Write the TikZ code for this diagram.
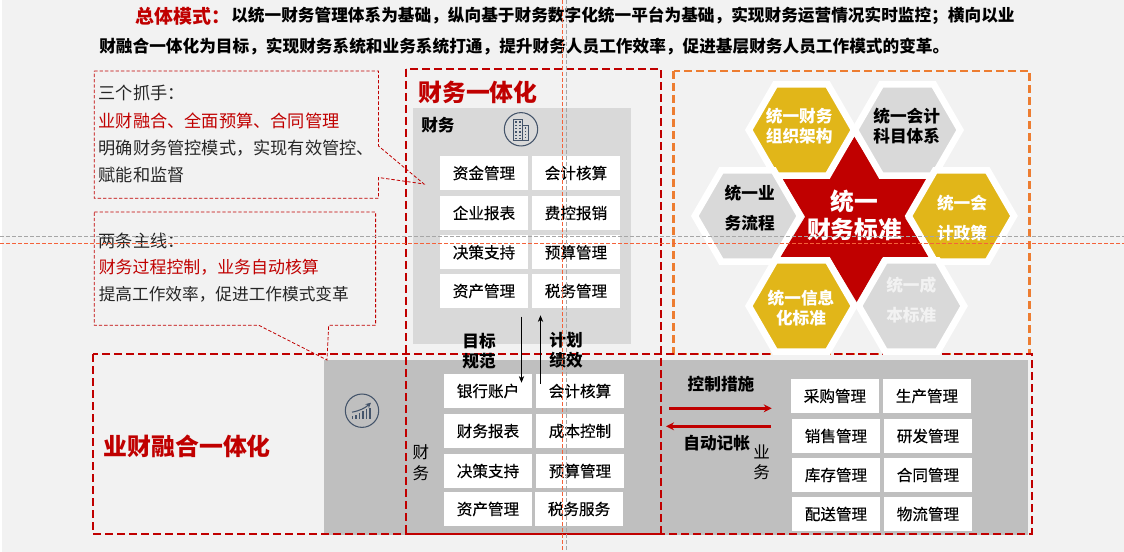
\documentclass[tikz,border=0pt]{standalone}
\usepackage{fontspec}
\setmainfont{Noto Sans CJK SC}
\newfontfamily\cellfont{Noto Sans CJK SC}[BoldFont={Noto Sans CJK SC},BoldFeatures={FakeBold=0.3}]
\usepackage{tikz}
\usetikzlibrary{calc, arrows.meta, positioning, shapes.geometric}
\definecolor{pagegray}{HTML}{F2F2F2}
\definecolor{deepred}{HTML}{C00000}
\definecolor{panelgray}{HTML}{D9D9D9}
\definecolor{darkpanel}{HTML}{BFBFBF}
\definecolor{goldhex}{HTML}{E1B619}
\definecolor{iconblue}{HTML}{44546A}
\definecolor{dashorange}{HTML}{ED7D31}
\definecolor{guidered}{HTML}{F4623A}
\begin{document}
\begin{tikzpicture}[
        x=0.75pt, y=-0.75pt,
        cellbox/.style={rectangle, fill=white, minimum width=66pt, minimum height=25.5pt, inner sep=0pt, font=\fontsize{11.7}{14}\cellfont\bfseries},
        plaintext/.style={anchor=west, inner sep=0pt, font=\fontsize{12.9}{15}\selectfont, text=black!85},
        headtext/.style={anchor=west, inner sep=0pt, font=\fontsize{12.5}{15}\selectfont\bfseries},
        bigtitle/.style={anchor=west, inner sep=0pt, font=\fontsize{17.9}{21}\selectfont\bfseries, text=deepred},
        boldlabel/.style={inner sep=0pt, align=center, font=\fontsize{12.5}{15}\selectfont\bfseries},
        sidelabel/.style={inner sep=0pt, font=\fontsize{12.4}{15}\selectfont},
        hextext/.style={inner sep=0pt, font=\fontsize{12.5}{15}\selectfont\bfseries},
        hexcell/.pic={\draw[draw=white, line width=5pt, fill=#1] (-52.65,0) -- (-26.3,-45.6) -- (26.3,-45.6) -- (52.65,0) -- (26.3,45.6) -- (-26.3,45.6) -- cycle;},
        thickdash/.style={draw=deepred, line width=1.6pt, dash pattern=on 6pt off 3pt},
        thindash/.style={draw=deepred, line width=0.6pt, dash pattern=on 2.5pt off 1.5pt},
        guideline/.style={line width=0.7pt, dash pattern=on 3pt off 1.5pt},
        iconring/.style={circle, draw=iconblue, line width=0.8pt, minimum size=25pt, inner sep=0pt},
        thinarrow/.style={-{Stealth[length=5pt, width=4pt]}, line width=0.5pt},
        redarrow/.style={-{Stealth[length=6pt, width=6pt]}, line width=2pt, deepred}
    ]
        \useasboundingbox (0,0) rectangle (1124,552);
        \fill[pagegray] (2,0) rectangle (1124,552);
        \fill[panelgray] (413,108) rectangle (631,344);
        \fill[darkpanel] (324,360) rectangle (1028,534.5);

        \node[headtext, text=deepred, font=\fontsize{14.2}{16}\selectfont\bfseries] (modehead) at (135.5,16) {总体模式：};
        \node[headtext] (modeone) at (231,16) {以统一财务管理体系为基础，纵向基于财务数字化统一平台为基础，实现财务运营情况实时监控；横向以业};
        \node[headtext] (modetwo) at (99,47) {财融合一体化为目标，实现财务系统和业务系统打通，提升财务人员工作效率，促进基层财务人员工作模式的变革。};

        \draw[thindash] (94.3,71) -- (378.5,71) -- (378.5,146) -- (424,184) -- (378.5,177.5) -- (378.5,198.3) -- (94.3,198.3) -- cycle;
        \draw[thindash] (94.3,212) -- (375.6,212) -- (375.6,325.3) -- (328.7,325.3) -- (327,360) -- (258.8,325.3) -- (94.3,325.3) -- cycle;
        \node[plaintext] (gripone) at (98.5,93) {三个抓手：};
        \node[plaintext, text=deepred] (griptwo) at (98.5,120.7) {业财融合、全面预算、合同管理};
        \node[plaintext] (gripthree) at (98.5,147.7) {明确财务管控模式，实现有效管控、};
        \node[plaintext] (gripfour) at (98.5,174.7) {赋能和监督};
        \node[plaintext] (lineone) at (98.5,240.7) {两条主线：};
        \node[plaintext, text=deepred, font=\fontsize{12.7}{15}\selectfont] (linetwo) at (98.5,267.7) {财务过程控制，业务自动核算};
        \node[plaintext, font=\fontsize{12.5}{15}\selectfont] (linethree) at (98.5,294.3) {提高工作效率，促进工作模式变革};

        \draw[thickdash] (406,69) rectangle (661,534);
        \draw[draw=dashorange, line width=1.6pt, dash pattern=on 6pt off 3pt] (673.5,71) rectangle (1029.5,354);
        \draw[thickdash] (92.8,354.3) rectangle (1032,533.7);

        \node[bigtitle] (financetitle) at (418,92.7) {财务一体化};
        \node[bigtitle] (mergetitle) at (103.5,446) {业财融合一体化};
        \node[headtext] (financehead) at (421,125.3) {财务};

        \node[iconring] (buildingicon) at (521,129.3) {};
        \draw[iconblue, fill=panelgray, line width=0.5pt] ($(buildingicon)+(-7.7,-10)$) rectangle ($(buildingicon)+(1.7,10.7)$);
        \draw[iconblue, fill=panelgray, line width=0.5pt] ($(buildingicon)+(1.7,-4.3)$) rectangle ($(buildingicon)+(7.7,10.7)$);
        \draw[iconblue, line width=1pt, dash pattern=on 1pt off 1.5pt] ($(buildingicon)+(-5,-8)$) -- ($(buildingicon)+(-5,9)$);
        \draw[iconblue, line width=1pt, dash pattern=on 1pt off 1.5pt] ($(buildingicon)+(-1,-8)$) -- ($(buildingicon)+(-1,9)$);
        \draw[iconblue, line width=1pt, dash pattern=on 1pt off 1.5pt] ($(buildingicon)+(4.7,-2)$) -- ($(buildingicon)+(4.7,9)$);

        \node[iconring] (charticon) at (362,410.7) {};
        \draw[iconblue, line width=1pt] ($(charticon)+(-9.5,8)$) -- ($(charticon)+(-9.5,5.5)$);
        \draw[iconblue, line width=1pt] ($(charticon)+(-6,8)$) -- ($(charticon)+(-6,4)$);
        \draw[iconblue, line width=1pt] ($(charticon)+(-2.5,8)$) -- ($(charticon)+(-2.5,2)$);
        \draw[iconblue, line width=1pt] ($(charticon)+(1,8)$) -- ($(charticon)+(1,0.5)$);
        \draw[iconblue, line width=1pt] ($(charticon)+(4.5,8)$) -- ($(charticon)+(4.5,-1.5)$);
        \draw[iconblue, line width=1pt] ($(charticon)+(8,8)$) -- ($(charticon)+(8,-3)$);
        \draw[iconblue, line width=0.8pt, -{Stealth[length=4pt, width=4pt]}] ($(charticon)+(-10,1.5)$) to[bend right=15] ($(charticon)+(9,-8)$);

        \node[cellbox] (fundmgmt) at (484,173) {资金管理};
        \node[cellbox] (acctcalc) at (576,173) {会计核算};
        \node[cellbox] (corpreport) at (484,213) {企业报表};
        \node[cellbox] (feeclaim) at (576,213) {费控报销};
        \node[cellbox] (decisiontop) at (484,252.4) {决策支持};
        \node[cellbox] (budgettop) at (576,252.4) {预算管理};
        \node[cellbox] (assettop) at (484,291) {资产管理};
        \node[cellbox] (taxtop) at (576,291) {税务管理};

        \node[cellbox] (bankacct) at (488,391) {银行账户};
        \node[cellbox] (acctlow) at (580,391) {会计核算};
        \node[cellbox] (finreport) at (488,431) {财务报表};
        \node[cellbox] (costctrl) at (580,431) {成本控制};
        \node[cellbox] (decisionlow) at (488,471) {决策支持};
        \node[cellbox] (budgetlow) at (580,471) {预算管理};
        \node[cellbox] (assetlow) at (488,509) {资产管理};
        \node[cellbox] (taxservice) at (579,509) {税务服务};

        \node[cellbox] (purchase) at (835,396) {采购管理};
        \node[cellbox] (produce) at (927,396) {生产管理};
        \node[cellbox] (sales) at (836,436) {销售管理};
        \node[cellbox] (research) at (928,436) {研发管理};
        \node[cellbox] (stock) at (836,475) {库存管理};
        \node[cellbox] (contract) at (928,475) {合同管理};
        \node[cellbox] (delivery) at (836,514) {配送管理};
        \node[cellbox] (logistics) at (928,514) {物流管理};

        \coordinate (downstart) at (521.5,316.7);
        \coordinate (downend) at (521.5,382.7);
        \coordinate (upstart) at (540.5,383.7);
        \coordinate (upend) at (540.5,315.3);
        \draw[thinarrow] (downstart) -- (downend);
        \draw[thinarrow] (upstart) -- (upend);
        \node[boldlabel] (goaltop) at (479,341) {目标};
        \node[boldlabel] (goalbot) at (479,361) {规范};
        \node[boldlabel] (plantop) at (566,340) {计划};
        \node[boldlabel] (planbot) at (566,360) {绩效};

        \coordinate (ctrlstart) at (669,408.3);
        \coordinate (ctrlend) at (771.7,408.3);
        \coordinate (autostart) at (770.6,426.3);
        \coordinate (autoend) at (666,426.3);
        \draw[redarrow] (ctrlstart) -- (ctrlend);
        \draw[redarrow] (autostart) -- (autoend);
        \node[boldlabel] (ctrllabel) at (721,384.3) {控制措施};
        \node[boldlabel] (autolabel) at (716.7,442.7) {自动记帐};

        \node[sidelabel] (fintop) at (421,452.7) {财};
        \node[sidelabel] (finbot) at (421,472.7) {务};
        \node[sidelabel] (biztop) at (761.6,451.7) {业};
        \node[sidelabel] (bizbot) at (761.6,471.7) {务};

        \fill[deepred] (854.3,136.7) -- (930,257.7) -- (780,257.7) -- cycle;
        \fill[deepred] (856.7,302) -- (782.3,179) -- (927.7,179) -- cycle;

        \pic (hexorg) at (801.5,130) {hexcell=goldhex};
        \pic (hexsubject) at (907.5,130) {hexcell=panelgray};
        \pic (hexflow) at (747.5,216) {hexcell=panelgray};
        \pic (hexpolicy) at (961.3,216) {hexcell=goldhex};
        \pic (hexinfo) at (801.5,306) {hexcell=goldhex};
        \pic (hexcost) at (911.4,306) {hexcell=panelgray};

        \node[hextext, text=white] (orgtop) at (799.2,115.7) {统一财务};
        \node[hextext, text=white] (orgbot) at (799.2,135.7) {组织架构};
        \node[hextext] (subjecttop) at (906.7,115.7) {统一会计};
        \node[hextext] (subjectbot) at (906.7,135.7) {科目体系};
        \node[hextext] (flowtop) at (749.7,193.3) {统一业};
        \node[hextext] (flowbot) at (749.7,222.7) {务流程};
        \node[hextext, text=white] (policytop) at (962,203.3) {统一会};
        \node[hextext, text=white] (policybot) at (962,233.3) {计政策};
        \node[hextext, text=white] (infotop) at (801,298.3) {统一信息};
        \node[hextext, text=white] (infobot) at (801,317.7) {化标准};
        \node[hextext, text=pagegray] (costtop) at (911.3,285) {统一成};
        \node[hextext, text=pagegray] (costbot) at (911.3,315) {本标准};
        \node[inner sep=0pt, text=white, font=\fontsize{17.8}{21}\selectfont\bfseries] (centertop) at (854,201.7) {统一};
        \node[inner sep=0pt, text=white, font=\fontsize{17.8}{21}\selectfont\bfseries] (centerbot) at (854.5,229.3) {财务标准};

        \draw[guideline, draw=black!35] (0,236.3) -- (1124,236.3);
        \draw[guideline, draw=guidered] (0,243.3) -- (1124,243.3);
        \draw[guideline, draw=guidered] (562.7,0) -- (562.7,552);
        \draw[guideline, draw=black!35] (566.3,0) -- (566.3,552);
    \end{tikzpicture}
\end{document}
